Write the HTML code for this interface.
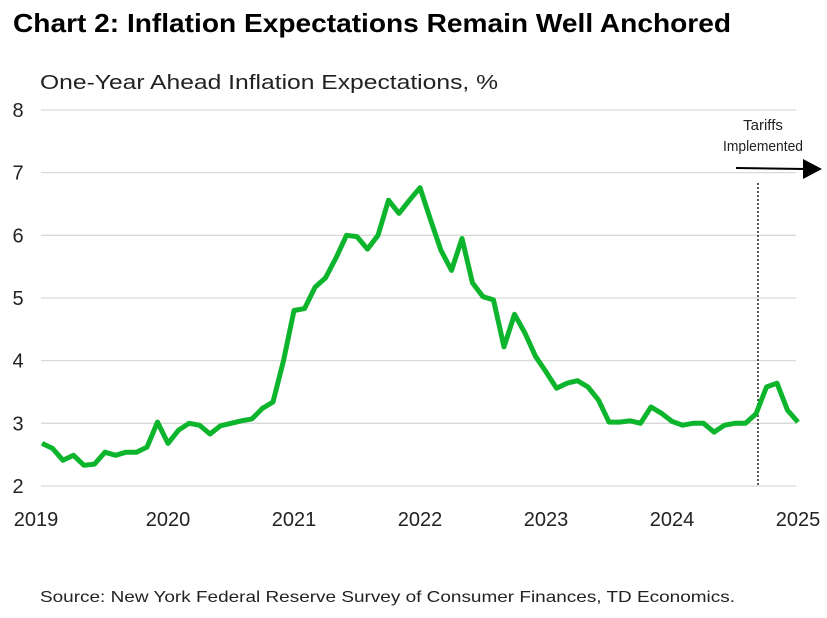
<!DOCTYPE html>
<html><head><meta charset="utf-8"><style>
body{margin:0;background:#fff;}
svg{display:block;font-family:"Liberation Sans",sans-serif;}
</style></head><body>
<svg id="chart" width="827" height="618" viewBox="0 0 827 618">
<text x="13" y="32" font-size="26" font-weight="bold" fill="#000" textLength="718" lengthAdjust="spacingAndGlyphs">Chart 2: Inflation Expectations Remain Well Anchored</text>
<text x="40" y="89" font-size="20" fill="#222" textLength="458" lengthAdjust="spacingAndGlyphs">One-Year Ahead Inflation Expectations, %</text>
<g id="grid"></g><g id="yt"></g><g id="xt"></g>
<line x1="758" y1="183" x2="758" y2="486" stroke="#222" stroke-width="1.5" stroke-dasharray="2,2"/>
<line x1="736" y1="168" x2="805" y2="169" stroke="#000" stroke-width="2"/>
<polygon points="803,159 822,169 803,179" fill="#000"/>
<text x="763" y="130" font-size="15" text-anchor="middle" fill="#222">Tariffs</text>
<text x="763" y="151" font-size="15" text-anchor="middle" fill="#222" textLength="80" lengthAdjust="spacingAndGlyphs">Implemented</text>
<path id="line" fill="none" stroke="#0db52c" stroke-width="5" stroke-linejoin="round"/>
<text x="40" y="602" font-size="16" fill="#222" textLength="695" lengthAdjust="spacingAndGlyphs">Source: New York Federal Reserve Survey of Consumer Finances, TD Economics.</text>
</svg>
<script>
const values=[2.68,2.6,2.41,2.49,2.33,2.35,2.54,2.49,2.54,2.54,2.62,3.02,2.68,2.89,3.0,2.97,2.83,2.96,3.0,3.04,3.07,3.24,3.34,4.0,4.8,4.83,5.17,5.32,5.64,6.0,5.98,5.78,6.0,6.56,6.35,6.56,6.76,6.25,5.76,5.44,5.95,5.24,5.02,4.97,4.22,4.74,4.44,4.07,3.82,3.56,3.64,3.68,3.58,3.37,3.02,3.02,3.04,3.0,3.26,3.16,3.03,2.97,3.0,3.0,2.86,2.97,3.0,3.0,3.15,3.58,3.64,3.21,3.02];
const yTicks=[2,3,4,5,6,7,8];
const xTickLabels=["2019","2020","2021","2022","2023","2024","2025"];
const xTickMonths=[0,12,24,36,48,60,72];
const NS="http://www.w3.org/2000/svg";
function y(v){return 486-(v-2)*62.67;}
function x(i){return 42+i*(756/72);}
const grid=document.getElementById('grid'),yt=document.getElementById('yt'),xt=document.getElementById('xt');
yTicks.forEach(t=>{
 const l=document.createElementNS(NS,'line');
 
 
 l.setAttribute('x1',41);l.setAttribute('x2',796);l.setAttribute('y1',y(t));l.setAttribute('y2',y(t));
 l.setAttribute('stroke','#d9d9d9');l.setAttribute('stroke-width','1.3');grid.appendChild(l);
 const s=document.createElementNS(NS,'text');
 
 
 s.setAttribute('x',18);s.setAttribute('y',y(t)+7);s.setAttribute('font-size','20');s.setAttribute('text-anchor','middle');s.setAttribute('fill','#222');
 s.textContent=t;yt.appendChild(s);
});
xTickLabels.forEach((lab,k)=>{
 const s=document.createElementNS(NS,'text');
 
 
 let px=x(xTickMonths[k]); if(k===0)px=36;
 s.setAttribute('x',px);s.setAttribute('y',526);s.setAttribute('font-size','20');s.setAttribute('text-anchor','middle');s.setAttribute('fill','#222');
 s.textContent=lab;xt.appendChild(s);
});
document.getElementById('line').setAttribute('d',values.map((v,i)=>(i?'L':'M')+x(i).toFixed(1)+','+y(v).toFixed(1)).join(''));
</script>
</body></html>
